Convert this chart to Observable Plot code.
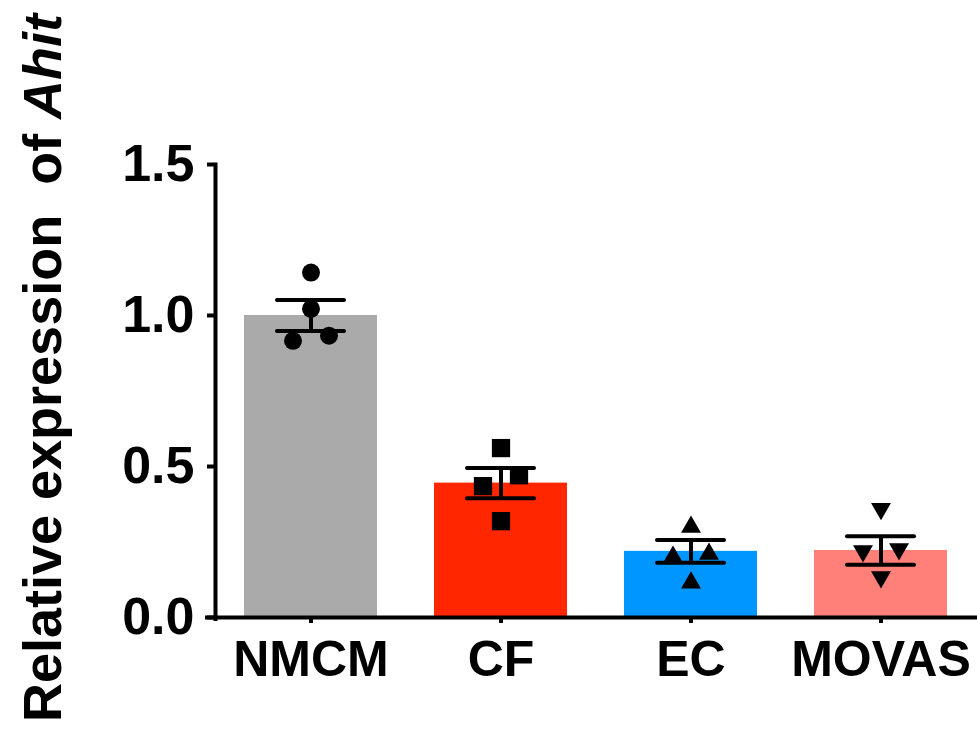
<!DOCTYPE html>
<html>
<head>
<meta charset="utf-8">
<script src="https://cdn.jsdelivr.net/npm/d3@7"></script>
<script src="https://cdn.jsdelivr.net/npm/@observablehq/plot@0.6"></script>
<style>
  html, body { margin: 0; padding: 0; background: #fff; }
  #chart { width: 977px; height: 742px; }
</style>
</head>
<body>
<div id="chart"></div>
<script>
// ---- Data ----
const groups = ["NMCM", "CF", "EC", "MOVAS"];
const means  = [1.0, 0.445, 0.219, 0.222];
const sems   = [0.051, 0.050, 0.038, 0.047];
// four replicate values per group: [center1, center2, left, right]
const pointsNMCM  = [1.142, 1.022, 0.916, 0.933];
const pointsCF    = [0.561, 0.319, 0.435, 0.471];
const pointsEC    = [0.300, 0.115, 0.200, 0.210];
const pointsMOVAS = [0.360, 0.134, 0.220, 0.227];
const yTicks = [0, 0.5, 1.0, 1.5];

const groupColors = ["#aaaaaa", "#ff2600", "#0096ff", "#ff7f79"];

// ---- Build tables ----
const bars = groups.map((g, i) => ({group: g, mean: means[i], lo: means[i] - sems[i], hi: means[i] + sems[i]}));
const allPoints = [pointsNMCM, pointsCF, pointsEC, pointsMOVAS];
const points = [];
groups.forEach((g, i) => allPoints[i].forEach((v, j) => points.push({group: g, value: v, slot: j < 2 ? 0 : (j === 2 ? -1 : 1)})));

const symbolStyle = {
  NMCM:  {symbol: "circle",   r: 9,    rotate: 0},
  CF:    {symbol: "square",   r: 10.3, rotate: 0},
  EC:    {symbol: "triangle", r: 7.4,  rotate: 0},
  MOVAS: {symbol: "triangle", r: 7.4,  rotate: 180}
};
const jitter = 18;

const dotMarks = [];
for (const g of groups) {
  for (const s of [-1, 0, 1]) {
    const st = symbolStyle[g];
    dotMarks.push(Plot.dot(points.filter(p => p.group === g && p.slot === s), {
      x: "group", y: "value", dx: s * jitter,
      symbol: st.symbol, r: st.r, rotate: st.rotate,
      fill: "black", stroke: "none"
    }));
  }
}

const W = 977, H = 742;
const chart = Plot.plot({
  width: W,
  height: H,
  marginTop: 164,
  marginBottom: 125,
  marginLeft: 214,
  marginRight: 0,
  style: {fontFamily: "'Liberation Sans', Arial, sans-serif", background: "white", color: "black"},
  x: {domain: groups, paddingInner: 0.3, paddingOuter: 0.15, label: null},
  y: {domain: [0, 1.5], label: null},
  color: {domain: groups, range: groupColors},
  marks: [
    Plot.barY(bars, {x: "group", y: "mean", fill: "group"}),
    Plot.ruleX(bars, {x: "group", y1: "lo", y2: "hi", stroke: "black", strokeWidth: 4}),
    Plot.tickY(bars, {x: "group", y: "hi", stroke: "black", strokeWidth: 4, insetLeft: 33, insetRight: 33, strokeLinecap: "round"}),
    Plot.tickY(bars, {x: "group", y: "lo", stroke: "black", strokeWidth: 4, insetLeft: 33, insetRight: 33, strokeLinecap: "round"}),
    ...dotMarks,
    Plot.frame({anchor: "left", stroke: "black", strokeWidth: 4, insetLeft: 1, insetBottom: -1.5}),
    Plot.ruleY([0], {stroke: "black", strokeWidth: 4, insetLeft: -9}),
    Plot.axisY({ticks: yTicks, tickFormat: d3.format(".1f"), tickSize: 7, tickPadding: 13,
      fontSize: 52, fontWeight: "bold", strokeWidth: 4, label: null}),
    Plot.axisX({tickSize: 6, tickPadding: 17, fontSize: 50, fontWeight: "bold", strokeWidth: 4, label: null})
  ]
});

// y-axis title with italic gene name
const svg = d3.select(chart);
const title = svg.append("text")
  .attr("transform", "translate(61,368) rotate(-90)")
  .attr("text-anchor", "middle")
  .attr("font-family", "'Liberation Sans', Arial, sans-serif")
  .attr("font-size", 54)
  .attr("font-weight", "bold")
  .attr("fill", "black")
  .style("white-space", "pre");
title.append("tspan").text("Relative expression  of ");
title.append("tspan").attr("font-style", "italic").text("Ahit");

document.getElementById("chart").appendChild(chart);
</script>
</body>
</html>
